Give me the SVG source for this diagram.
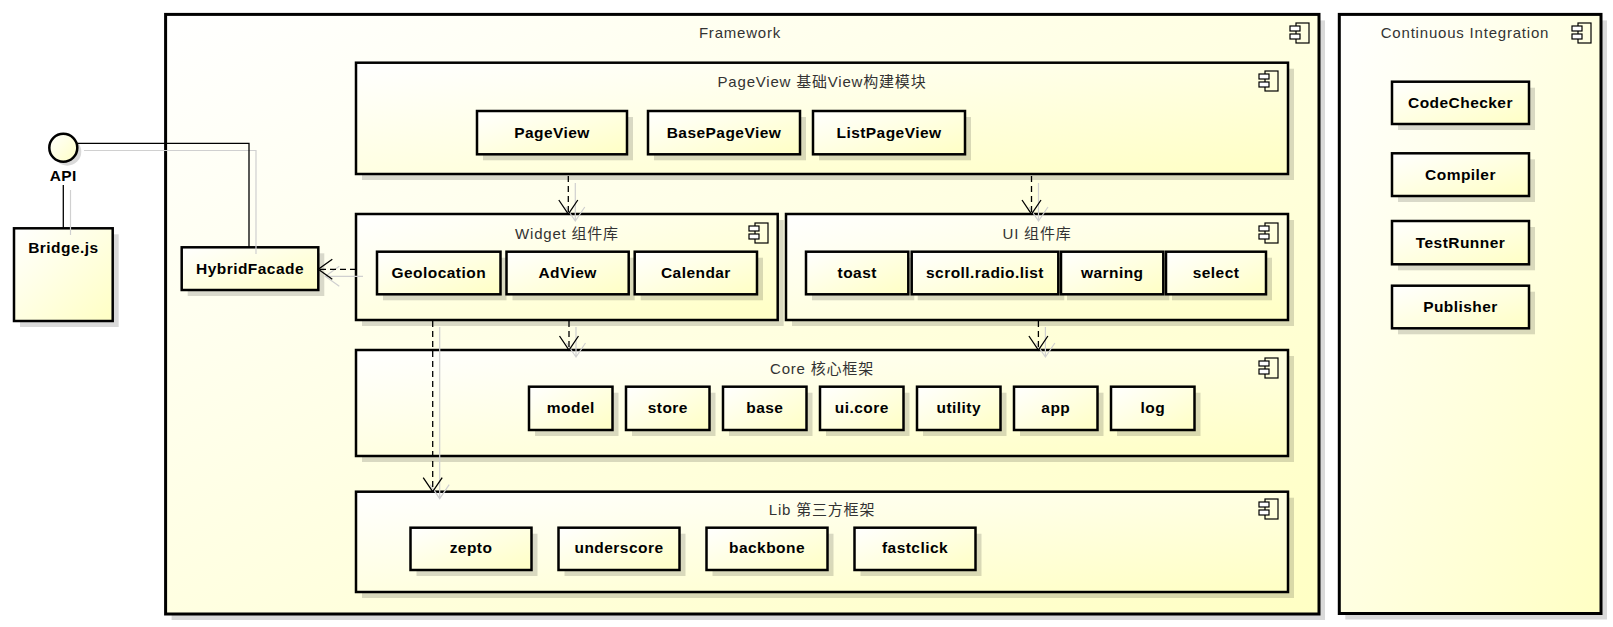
<svg xmlns="http://www.w3.org/2000/svg" width="1613" height="627" viewBox="0 0 1613 627">
<defs>
<linearGradient id="g" x1="0" y1="0" x2="1" y2="1"><stop offset="0" stop-color="#ffffff"/><stop offset="1" stop-color="#ffffc4"/></linearGradient>
<g id="ci"><rect x="6" y="0" width="13" height="20" fill="none"/><rect x="0" y="3" width="10" height="5" fill="#fff"/><rect x="0" y="11" width="10" height="5" fill="#fff"/></g>
</defs>
<style>
.box{fill:url(#g);stroke:#000;stroke-width:2.5}
.big{stroke-width:3}
.sh{fill:#000;fill-opacity:.15}
.ic{stroke:#000;stroke-width:1.2}
.t{font-family:"Liberation Sans","Noto Sans CJK SC",sans-serif;font-size:15px;letter-spacing:.8px;fill:#333;text-anchor:middle}
.b{font-family:"Liberation Sans",sans-serif;font-weight:bold;font-size:15.5px;letter-spacing:.45px;fill:#000;text-anchor:middle}
.dep{fill:none;stroke:#000;stroke-width:1.3;stroke-dasharray:6 4}
.arr{fill:none;stroke:#000;stroke-width:1.3}
.shl{fill:none;stroke:#d0d0d0;stroke-width:1.2}
</style>
<rect width="1613" height="627" fill="#fff"/>

<g id="framework">
<rect class="sh" x="171.6" y="20.4" width="1153.4" height="599.6"/>
<rect class="box big" x="165.6" y="14.4" width="1153.4" height="599.6"/>
<text class="t" x="740" y="38">Framework</text>
<use href="#ci" class="ic" x="1290" y="23"/>
</g>

<g id="ci-box">
<rect class="sh" x="1345.3" y="20.4" width="261.7" height="599.1"/>
<rect class="box big" x="1339.3" y="14.4" width="261.7" height="599.1"/>
<text class="t" x="1465" y="38">Continuous Integration</text>
<use href="#ci" class="ic" x="1572" y="23"/>
</g>

<g id="pageview-module">
<rect class="sh" x="362" y="68.7" width="932" height="111.3"/>
<rect class="box" x="356" y="62.7" width="932" height="111.3"/>
<text class="t" x="822" y="87">PageView 基础View构建模块</text>
<use href="#ci" class="ic" x="1259" y="71"/>
</g>
<g id="pageview"><rect class="sh" x="483" y="117" width="150" height="43.3"/><rect class="box" x="477" y="111" width="150" height="43.3"/><text class="b" x="552" y="138">PageView</text></g>
<g id="basepageview"><rect class="sh" x="654" y="117" width="152" height="43.3"/><rect class="box" x="648" y="111" width="152" height="43.3"/><text class="b" x="724" y="138">BasePageView</text></g>
<g id="listpageview"><rect class="sh" x="819" y="117" width="152" height="43.3"/><rect class="box" x="813" y="111" width="152" height="43.3"/><text class="b" x="889" y="138">ListPageView</text></g>

<g id="widget-module">
<rect class="sh" x="362" y="220" width="421.7" height="106"/>
<rect class="box" x="356" y="214" width="421.7" height="106"/>
<text class="t" x="567" y="239">Widget 组件库</text>
<use href="#ci" class="ic" x="749" y="223"/>
</g>
<g id="geolocation"><rect class="sh" x="383" y="257.7" width="123.5" height="42.6"/><rect class="box" x="377" y="251.7" width="123.5" height="42.6"/><text class="b" x="438.8" y="278">Geolocation</text></g>
<g id="adview"><rect class="sh" x="512.5" y="257.7" width="122.2" height="42.6"/><rect class="box" x="506.5" y="251.7" width="122.2" height="42.6"/><text class="b" x="567.6" y="278">AdView</text></g>
<g id="calendar"><rect class="sh" x="640.7" y="257.7" width="122.3" height="42.6"/><rect class="box" x="634.7" y="251.7" width="122.3" height="42.6"/><text class="b" x="695.9" y="278">Calendar</text></g>

<g id="ui-module">
<rect class="sh" x="792" y="220" width="502" height="106"/>
<rect class="box" x="786" y="214" width="502" height="106"/>
<text class="t" x="1037" y="239">UI 组件库</text>
<use href="#ci" class="ic" x="1259" y="223"/>
</g>
<g id="toast"><rect class="sh" x="812" y="257.7" width="102.3" height="42.6"/><rect class="box" x="806" y="251.7" width="102.3" height="42.6"/><text class="b" x="857.2" y="278">toast</text></g>
<g id="scroll-radio-list"><rect class="sh" x="917.7" y="257.7" width="146.6" height="42.6"/><rect class="box" x="911.7" y="251.7" width="146.6" height="42.6"/><text class="b" x="985" y="278">scroll.radio.list</text></g>
<g id="warning"><rect class="sh" x="1067" y="257.7" width="102.3" height="42.6"/><rect class="box" x="1061" y="251.7" width="102.3" height="42.6"/><text class="b" x="1112.2" y="278">warning</text></g>
<g id="select"><rect class="sh" x="1172" y="257.7" width="100" height="42.6"/><rect class="box" x="1166" y="251.7" width="100" height="42.6"/><text class="b" x="1216" y="278">select</text></g>

<g id="core-module">
<rect class="sh" x="362" y="356" width="932" height="106"/>
<rect class="box" x="356" y="350" width="932" height="106"/>
<text class="t" x="822" y="374">Core 核心框架</text>
<use href="#ci" class="ic" x="1259" y="358"/>
</g>
<g id="model"><rect class="sh" x="535" y="392.7" width="83.5" height="43.3"/><rect class="box" x="529" y="386.7" width="83.5" height="43.3"/><text class="b" x="570.8" y="413">model</text></g>
<g id="store"><rect class="sh" x="632" y="392.7" width="83.5" height="43.3"/><rect class="box" x="626" y="386.7" width="83.5" height="43.3"/><text class="b" x="667.8" y="413">store</text></g>
<g id="base"><rect class="sh" x="729" y="392.7" width="83.5" height="43.3"/><rect class="box" x="723" y="386.7" width="83.5" height="43.3"/><text class="b" x="764.8" y="413">base</text></g>
<g id="ui-core"><rect class="sh" x="826" y="392.7" width="83.5" height="43.3"/><rect class="box" x="820" y="386.7" width="83.5" height="43.3"/><text class="b" x="861.8" y="413">ui.core</text></g>
<g id="utility"><rect class="sh" x="923" y="392.7" width="83.5" height="43.3"/><rect class="box" x="917" y="386.7" width="83.5" height="43.3"/><text class="b" x="958.8" y="413">utility</text></g>
<g id="app"><rect class="sh" x="1020" y="392.7" width="83.5" height="43.3"/><rect class="box" x="1014" y="386.7" width="83.5" height="43.3"/><text class="b" x="1055.8" y="413">app</text></g>
<g id="log"><rect class="sh" x="1117" y="392.7" width="83.5" height="43.3"/><rect class="box" x="1111" y="386.7" width="83.5" height="43.3"/><text class="b" x="1152.8" y="413">log</text></g>

<g id="lib-module">
<rect class="sh" x="362" y="497.7" width="932" height="100.3"/>
<rect class="box" x="356" y="491.7" width="932" height="100.3"/>
<text class="t" x="822" y="515">Lib 第三方框架</text>
<use href="#ci" class="ic" x="1259" y="499"/>
</g>
<g id="zepto"><rect class="sh" x="416.5" y="533.7" width="121" height="42.3"/><rect class="box" x="410.5" y="527.7" width="121" height="42.3"/><text class="b" x="471" y="553">zepto</text></g>
<g id="underscore"><rect class="sh" x="564.5" y="533.7" width="121" height="42.3"/><rect class="box" x="558.5" y="527.7" width="121" height="42.3"/><text class="b" x="619" y="553">underscore</text></g>
<g id="backbone"><rect class="sh" x="712.5" y="533.7" width="121" height="42.3"/><rect class="box" x="706.5" y="527.7" width="121" height="42.3"/><text class="b" x="767" y="553">backbone</text></g>
<g id="fastclick"><rect class="sh" x="860.5" y="533.7" width="121" height="42.3"/><rect class="box" x="854.5" y="527.7" width="121" height="42.3"/><text class="b" x="915" y="553">fastclick</text></g>

<g id="codechecker"><rect class="sh" x="1398" y="87.7" width="137" height="42.3"/><rect class="box" x="1392" y="81.7" width="137" height="42.3"/><text class="b" x="1460.5" y="108">CodeChecker</text></g>
<g id="compiler"><rect class="sh" x="1398" y="159.3" width="137" height="42.7"/><rect class="box" x="1392" y="153.3" width="137" height="42.7"/><text class="b" x="1460.5" y="180">Compiler</text></g>
<g id="testrunner"><rect class="sh" x="1398" y="227" width="137" height="43.3"/><rect class="box" x="1392" y="221" width="137" height="43.3"/><text class="b" x="1460.5" y="248">TestRunner</text></g>
<g id="publisher"><rect class="sh" x="1398" y="291.7" width="137" height="42.6"/><rect class="box" x="1392" y="285.7" width="137" height="42.6"/><text class="b" x="1460.5" y="312">Publisher</text></g>

<g id="hybridfacade"><rect class="sh" x="187.7" y="253.3" width="136.6" height="42.7"/><rect class="box" x="181.7" y="247.3" width="136.6" height="42.7"/><text class="b" x="250" y="274">HybridFacade</text></g>

<g id="bridge"><rect class="sh" x="20" y="234.3" width="98.7" height="92.7"/><rect class="box" x="14" y="228.3" width="98.7" height="92.7"/><text class="b" x="63.4" y="253">Bridge.js</text></g>

<g id="api">
<circle cx="67.3" cy="151.7" r="14" fill="#000" fill-opacity=".15"/>
<circle cx="63.3" cy="147.7" r="14" class="box"/>
<text class="b" x="63.3" y="181">API</text>
</g>

<g id="connectors">
<g class="shl">
<path d="M84 150.5H256V254"/>
<path d="M70.5 190V235"/>
<path d="M575.3 183V221M565.8 207L575.3 221L584.8 207"/>
<path d="M1038.5 183V221M1029 207L1038.5 221L1048 207"/>
<path d="M576 327V357M566.5 343L576 357L585.5 343"/>
<path d="M1045.4 327V357M1035.9 343L1045.4 357L1054.9 343"/>
<path d="M439.7 327V498.7M430.2 484.7L439.7 498.7L449.2 484.7"/>
<path d="M363 276.3H325.3M339.3 266.3L325.3 276.3L339.3 286.3"/>
</g>
<path class="arr" d="M77.3 143.3H249V247.3"/>
<path class="arr" d="M63.3 185V228.3"/>
<path class="dep" d="M568.3 176V213"/><path class="arr" d="M558.8 200L568.3 214L577.8 200"/>
<path class="dep" d="M1031.5 176V213"/><path class="arr" d="M1022 200L1031.5 214L1041 200"/>
<path class="dep" d="M569 321V349"/><path class="arr" d="M559.5 336L569 350L578.5 336"/>
<path class="dep" d="M1038.4 321V349"/><path class="arr" d="M1028.9 336L1038.4 350L1047.9 336"/>
<path class="dep" d="M432.7 321V490.7"/><path class="arr" d="M423.2 477.7L432.7 491.7L442.2 477.7"/>
<path class="dep" d="M356 269.3H320"/><path class="arr" d="M332.3 259.3L318.3 269.3L332.3 279.3"/>
</g>
</svg>
